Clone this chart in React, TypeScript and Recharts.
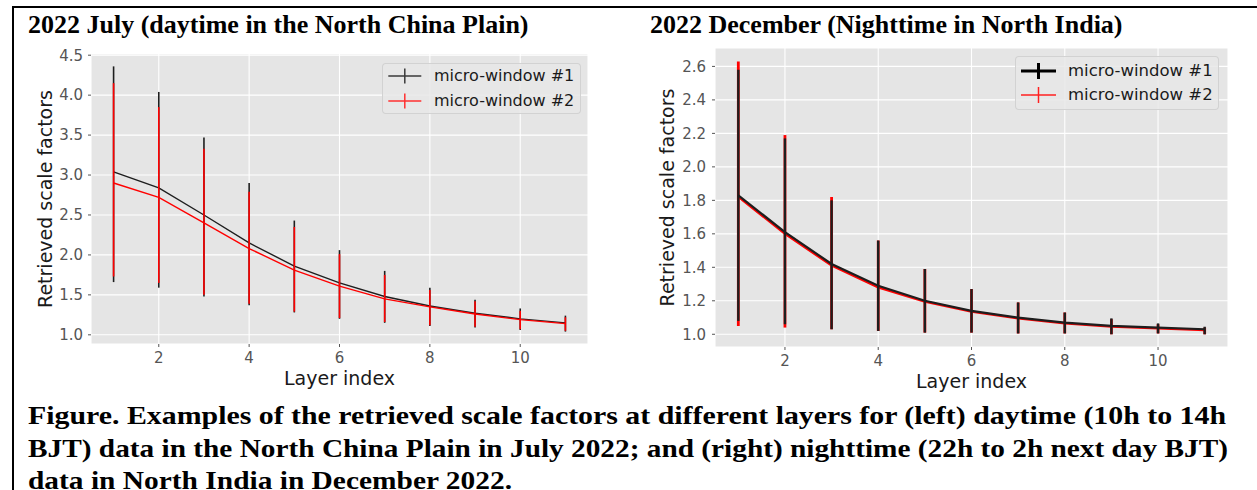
import React from 'react';
import { LineChart, Line, XAxis, YAxis, CartesianGrid, ErrorBar, Legend } from 'recharts';

// ---------- data ----------
const layers = [1, 2, 3, 4, 5, 6, 7, 8, 9, 10, 11];
const xTicks = [2, 4, 6, 8, 10];
const leftYTicks = [1.0, 1.5, 2.0, 2.5, 3.0, 3.5, 4.0, 4.5];
const rightYTicks = [1.0, 1.2, 1.4, 1.6, 1.8, 2.0, 2.2, 2.4, 2.6];
const seriesNames = ['micro-window #1', 'micro-window #2'];

// Left panel: 2022 July (daytime, North China Plain)
const leftMean1 = [3.04, 2.84, 2.5, 2.15, 1.86, 1.65, 1.48, 1.36, 1.27, 1.2, 1.15];
const leftUpper1 = [4.36, 4.04, 3.47, 2.9, 2.43, 2.06, 1.8, 1.59, 1.44, 1.33, 1.24];
const leftLower1 = [1.66, 1.59, 1.48, 1.37, 1.28, 1.2, 1.15, 1.11, 1.09, 1.06, 1.04];
const leftMean2 = [2.9, 2.72, 2.4, 2.08, 1.81, 1.61, 1.45, 1.35, 1.26, 1.19, 1.14];
const leftUpper2 = [4.15, 3.85, 3.33, 2.79, 2.35, 2.01, 1.75, 1.56, 1.42, 1.3, 1.22];
const leftLower2 = [1.73, 1.65, 1.5, 1.39, 1.29, 1.21, 1.16, 1.12, 1.1, 1.07, 1.05];

// Right panel: 2022 December (nighttime, North India)
const rightMean1 = [1.83, 1.61, 1.42, 1.29, 1.2, 1.14, 1.1, 1.07, 1.05, 1.04, 1.03];
const rightUpper1 = [2.58, 2.17, 1.8, 1.56, 1.39, 1.27, 1.19, 1.13, 1.095, 1.065, 1.045];
const rightLower1 = [1.08, 1.06, 1.03, 1.02, 1.01, 1.01, 1.005, 1.005, 1.0, 1.005, 1.0];
const rightMean2 = [1.82, 1.6, 1.41, 1.28, 1.195, 1.135, 1.095, 1.065, 1.045, 1.035, 1.025];
const rightUpper2 = [2.63, 2.19, 1.82, 1.56, 1.39, 1.27, 1.19, 1.13, 1.09, 1.06, 1.04];
const rightLower2 = [1.05, 1.04, 1.03, 1.02, 1.01, 1.01, 1.005, 1.005, 1.0, 1.005, 1.0];

const titleLeft = '2022 July (daytime in the North China Plain)';
const titleRight = '2022 December (Nighttime in North India)';
const captionLines = [
  'Figure. Examples of the retrieved scale factors at different layers for (left) daytime (10h to 14h',
  'BJT) data in the North China Plain in July 2022; and (right) nighttime (22h to 2h next day BJT)',
  'data in North India in December 2022.',
];

const buildRows = (
  m1: number[], lo1: number[], hi1: number[],
  m2: number[], lo2: number[], hi2: number[]
) =>
  layers.map((x, i) => ({
    x,
    m1: m1[i],
    e1: [m1[i] - lo1[i], hi1[i] - m1[i]],
    m2: m2[i],
    e2: [m2[i] - lo2[i], hi2[i] - m2[i]],
  }));

const leftRows = buildRows(leftMean1, leftLower1, leftUpper1, leftMean2, leftLower2, leftUpper2);
const rightRows = buildRows(rightMean1, rightLower1, rightUpper1, rightMean2, rightLower2, rightUpper2);

// ---------- styling ----------
const SANS = '"DejaVu Sans", Verdana, sans-serif';
const SERIF = '"Liberation Serif", "Times New Roman", serif';
const BLACK = '#1e1e1e';
const RED = '#ff0000';

type LegendSpec = {
  w: number; h: number; rowCenters: number[]; sx0: number; sx1: number; textX: number;
  crossH: number; fontSize: number; widths: number[]; colors: string[];
};

const LegendBox = ({ spec }: { spec: LegendSpec }) => (
  <div
    style={{
      position: 'relative', width: spec.w, height: spec.h, boxSizing: 'border-box',
      background: 'rgba(232,232,232,0.85)', border: '1px solid rgba(204,204,204,0.8)',
      borderRadius: 4, fontFamily: SANS,
    }}
  >
    {seriesNames.map((name, i) => (
      <div key={name} style={{ position: 'absolute', left: 0, top: spec.rowCenters[i] - 12, height: 24, width: spec.w }}>
        <svg width={spec.sx1 + 2} height={24} style={{ position: 'absolute', left: 0, top: 0 }}>
          <line x1={spec.sx0} x2={spec.sx1} y1={12} y2={12} stroke={spec.colors[i]} strokeWidth={spec.widths[i]} />
          <line
            x1={(spec.sx0 + spec.sx1) / 2} x2={(spec.sx0 + spec.sx1) / 2}
            y1={12 - spec.crossH / 2} y2={12 + spec.crossH / 2}
            stroke={spec.colors[i]} strokeWidth={spec.widths[i]}
          />
        </svg>
        <div
          style={{
            position: 'absolute', left: spec.textX, top: 0, height: 24, lineHeight: '24px',
            fontSize: spec.fontSize, color: '#1a1a1a', whiteSpace: 'nowrap',
          }}
        >
          {name}
        </div>
      </div>
    ))}
  </div>
);

type PanelProps = {
  rows: any[]; width: number; height: number; left: number;
  margin: { top: number; right: number; bottom: number; left: number };
  yAxisWidth: number; xAxisHeight: number; yDomain: [number, number]; yTicks: number[];
  yTickMargin: number; yLabelFromRight: number; xLabelBaseline: number;
  legendPos: { left: number; top: number }; legend: LegendSpec;
  blackWidth: number; redWidth: number; blackBarWidth: number; redBarWidth: number; redOnTop: boolean;
};

const Panel = (p: PanelProps) => {
  const black = (
    <Line
      key="s1" type="linear" dataKey="m1" name={seriesNames[0]} stroke={BLACK} strokeWidth={p.blackWidth}
      dot={false} activeDot={false} isAnimationActive={false}
    >
      <ErrorBar dataKey="e1" direction="y" width={0} stroke={BLACK} strokeWidth={p.blackBarWidth} isAnimationActive={false} />
    </Line>
  );
  const red = (
    <Line
      key="s2" type="linear" dataKey="m2" name={seriesNames[1]} stroke={RED} strokeWidth={p.redWidth}
      dot={false} activeDot={false} isAnimationActive={false}
    >
      <ErrorBar dataKey="e2" direction="y" width={0} stroke={RED} strokeWidth={p.redBarWidth} isAnimationActive={false} />
    </Line>
  );
  return (
    <div style={{ position: 'absolute', left: p.left, top: 0, width: p.width, height: p.height }}>
      <LineChart width={p.width} height={p.height} data={p.rows} margin={p.margin}>
        <CartesianGrid fill="#E5E5E5" fillOpacity={1} stroke="#FFFFFF" strokeWidth={1.1} />
        <XAxis
          type="number" dataKey="x" domain={[0.5, 11.5]} ticks={xTicks} allowDataOverflow interval={0}
          axisLine={false} tickLine={{ stroke: '#555555' }} tickSize={3} tickMargin={5.5}
          tick={{ fill: '#555555', fontSize: 15, fontFamily: SANS }} height={p.xAxisHeight}
          label={{
            content: (props: any) => {
              const vb = props.viewBox;
              if (!vb) return null;
              return (
                <text x={vb.x + vb.width / 2} y={vb.y + p.xLabelBaseline} textAnchor="middle"
                  fontFamily={SANS} fontSize={19} fill="#1a1a1a">Layer index</text>
              );
            },
          }}
        />
        <YAxis
          type="number" domain={p.yDomain} ticks={p.yTicks} allowDataOverflow interval={0}
          tickFormatter={(v: number) => v.toFixed(1)}
          axisLine={false} tickLine={{ stroke: '#555555' }} tickSize={3} tickMargin={p.yTickMargin}
          tick={{ fill: '#555555', fontSize: 15, fontFamily: SANS }} width={p.yAxisWidth}
          label={{
            content: (props: any) => {
              const vb = props.viewBox;
              if (!vb) return null;
              const x = vb.x + vb.width - p.yLabelFromRight;
              const y = vb.y + vb.height / 2;
              return (
                <text x={x} y={y} transform={`rotate(-90, ${x}, ${y})`} textAnchor="middle"
                  fontFamily={SANS} fontSize={19} fill="#1a1a1a">Retrieved scale factors</text>
              );
            },
          }}
        />
        {p.redOnTop ? [black, red] : [red, black]}
        <Legend
          layout="vertical" align="center" verticalAlign="middle"
          wrapperStyle={{ left: p.legendPos.left, top: p.legendPos.top, width: p.legend.w, height: p.legend.h }}
          content={() => <LegendBox spec={p.legend} />}
        />
      </LineChart>
    </div>
  );
};

export default function App() {
  return (
    <div style={{ position: 'absolute', left: 0, top: 0, width: 1257, height: 490, background: '#fff', overflow: 'hidden' }}>
      {/* frame lines */}
      <div style={{ position: 'absolute', left: 12, top: 6, width: 1245, height: 2, background: '#000' }} />
      <div style={{ position: 'absolute', left: 12, top: 6, width: 2, height: 484, background: '#000' }} />
      <svg width={1257} height={490} style={{ position: 'absolute', left: 0, top: 0 }}>
        <text x={28} y={32.7} fontFamily={SERIF} fontWeight={700} fontSize={26}>
          {titleLeft}
        </text>
        <text x={650} y={32.7} fontFamily={SERIF} fontWeight={700} fontSize={26}>
          {titleRight}
        </text>
        {captionLines.map((line, i) => (
          <text key={i} x={28} y={[424, 456.5, 488.5][i]} fontFamily={SERIF} fontWeight={700} fontSize={26}
            textLength={[1198, 1200, 484][i]} lengthAdjust="spacingAndGlyphs">
            {line}
          </text>
        ))}
      </svg>
      <Panel
        rows={leftRows} width={620} height={400} left={0}
        margin={{ top: 54, right: 32, bottom: 0, left: 0 }}
        yAxisWidth={91} xAxisHeight={56} yDomain={[0.885, 4.515]} yTicks={leftYTicks}
        yTickMargin={5} yLabelFromRight={39.5} xLabelBaseline={41}
        legendPos={{ left: 382, top: 63 }}
        legend={{ w: 199, h: 51, rowCenters: [12.3, 36.6], sx0: 5.3, sx1: 38.3, textX: 51, crossH: 15, fontSize: 16,
          widths: [1.5, 1.5], colors: ['#3a3a3a', '#ff3030'] }}
        blackWidth={1.4} redWidth={1.4} blackBarWidth={1.6} redBarWidth={1.6} redOnTop={true}
      />
      <Panel
        rows={rightRows} width={637} height={400} left={620}
        margin={{ top: 48, right: 29, bottom: 0, left: 0 }}
        yAxisWidth={95} xAxisHeight={53} yDomain={[0.924, 2.71]} yTicks={rightYTicks}
        yTickMargin={6} yLabelFromRight={41} xLabelBaseline={41.3}
        legendPos={{ left: 395, top: 56 }}
        legend={{ w: 204, h: 54, rowCenters: [14, 38], sx0: 5, sx1: 40, textX: 52, crossH: 16, fontSize: 16.5,
          widths: [3, 1.5], colors: ['#000000', '#ff2020'] }}
        blackWidth={2.2} redWidth={2.2} blackBarWidth={2.4} redBarWidth={2.8} redOnTop={false}
      />
    </div>
  );
}
